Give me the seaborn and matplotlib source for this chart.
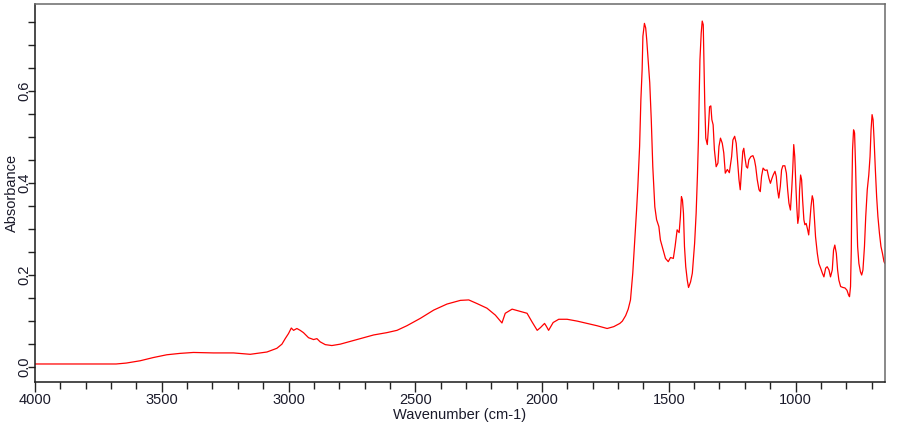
import matplotlib
matplotlib.use("Agg")
import matplotlib.pyplot as plt
from matplotlib.ticker import MultipleLocator, FormatStrFormatter
import pandas as pd
import seaborn as sns

# IR-Spektrum, Werte
wavenumber = [
    4000, 3680, 3640, 3585, 3533, 3480, 3428, 3375, 3296, 3217, 3151, 3085,
    3046, 3026, 3013, 3000, 2989, 2980, 2967, 2954, 2941, 2921, 2901, 2888,
    2875, 2855, 2829, 2796, 2756, 2717, 2664, 2612, 2572, 2533, 2480, 2427,
    2375, 2322, 2289, 2256, 2217, 2184, 2158, 2145, 2118, 2092, 2059, 2039,
    2019, 2006, 1990, 1983, 1974, 1956, 1934, 1901, 1861, 1822, 1783, 1743,
    1717, 1693, 1683, 1670, 1660, 1651, 1642, 1634, 1627, 1622, 1615, 1610,
    1605, 1602, 1596, 1591, 1587, 1580, 1575, 1569, 1563, 1555, 1548, 1539,
    1533, 1522, 1513, 1502, 1493, 1482, 1475, 1467, 1459, 1454, 1450, 1446,
    1442, 1438, 1433, 1427, 1422, 1414, 1407, 1398, 1392, 1387, 1383, 1380,
    1377, 1372, 1368, 1364, 1362, 1358, 1354, 1348, 1344, 1339, 1334, 1330,
    1325, 1320, 1313, 1306, 1302, 1296, 1289, 1283, 1277, 1269, 1261, 1252,
    1247, 1240, 1234, 1229, 1223, 1218, 1213, 1208, 1204, 1200, 1194, 1189,
    1184, 1176, 1168, 1162, 1157, 1151, 1144, 1139, 1134, 1128, 1120, 1112,
    1105, 1099, 1094, 1088, 1081, 1076, 1071, 1066, 1060, 1055, 1050, 1042,
    1036, 1031, 1026, 1020, 1015, 1011, 1007, 1003, 999, 995, 991, 987,
    984, 980, 976, 972, 967, 963, 958, 952, 948, 944, 939, 934,
    930, 926, 921, 914, 908, 901, 894, 888, 881, 875, 868, 862,
    855, 850, 845, 839, 834, 829, 822, 813, 805, 797, 791, 787,
    783, 780, 778, 775, 771, 767, 763, 759, 755, 750, 744, 739,
    734, 728, 723, 717, 711, 706, 702, 698, 694, 690, 685, 680,
    675, 669, 663, 657, 651, 647,
]
absorbance = [
    0.007, 0.007, 0.009, 0.014, 0.021, 0.027, 0.030, 0.032, 0.031, 0.031, 0.028, 0.033,
    0.041, 0.050, 0.062, 0.073, 0.085, 0.080, 0.084, 0.080, 0.075, 0.064, 0.060, 0.062,
    0.055, 0.049, 0.047, 0.050, 0.056, 0.062, 0.070, 0.075, 0.080, 0.090, 0.106, 0.124,
    0.137, 0.145, 0.146, 0.138, 0.128, 0.113, 0.096, 0.117, 0.126, 0.122, 0.117, 0.098,
    0.080, 0.086, 0.095, 0.089, 0.080, 0.097, 0.104, 0.104, 0.100, 0.095, 0.090, 0.084,
    0.088, 0.095, 0.100, 0.112, 0.126, 0.146, 0.204, 0.276, 0.341, 0.392, 0.479, 0.580,
    0.646, 0.718, 0.746, 0.736, 0.711, 0.657, 0.617, 0.537, 0.435, 0.348, 0.320, 0.305,
    0.276, 0.254, 0.236, 0.229, 0.238, 0.236, 0.262, 0.298, 0.292, 0.327, 0.370, 0.363,
    0.334, 0.262, 0.218, 0.189, 0.173, 0.185, 0.204, 0.269, 0.334, 0.414, 0.493, 0.588,
    0.667, 0.725, 0.751, 0.743, 0.682, 0.573, 0.497, 0.483, 0.515, 0.565, 0.567, 0.537,
    0.526, 0.472, 0.435, 0.443, 0.479, 0.497, 0.486, 0.465, 0.421, 0.429, 0.422, 0.457,
    0.493, 0.501, 0.486, 0.450, 0.407, 0.385, 0.428, 0.468, 0.475, 0.457, 0.435, 0.432,
    0.450, 0.457, 0.459, 0.450, 0.435, 0.407, 0.385, 0.381, 0.414, 0.432, 0.427, 0.428,
    0.410, 0.399, 0.408, 0.417, 0.425, 0.414, 0.385, 0.367, 0.392, 0.428, 0.437, 0.437,
    0.421, 0.385, 0.356, 0.341, 0.385, 0.428, 0.483, 0.457, 0.399, 0.348, 0.312, 0.327,
    0.385, 0.417, 0.407, 0.363, 0.320, 0.309, 0.312, 0.298, 0.287, 0.312, 0.348, 0.372,
    0.363, 0.327, 0.283, 0.247, 0.225, 0.215, 0.204, 0.196, 0.215, 0.218, 0.211, 0.196,
    0.211, 0.254, 0.265, 0.247, 0.211, 0.189, 0.175, 0.173, 0.172, 0.167, 0.157, 0.153,
    0.175, 0.254, 0.370, 0.472, 0.515, 0.508, 0.435, 0.341, 0.262, 0.225, 0.207, 0.200,
    0.211, 0.262, 0.327, 0.385, 0.417, 0.457, 0.515, 0.548, 0.537, 0.493, 0.428, 0.370,
    0.327, 0.291, 0.262, 0.247, 0.229, 0.225,
]

df = pd.DataFrame({"Wavenumber": wavenumber, "Absorbance": absorbance})

sns.set_style("ticks")
plt.rcParams["font.family"] = ["Liberation Sans", "DejaVu Sans"]
plt.rcParams["font.size"] = 10.5

fig = plt.figure(figsize=(9.1, 4.25), dpi=100)
ax = fig.add_axes([35 / 910, 1 - 381.5 / 425, 850 / 910, 377.5 / 425])

sns.lineplot(data=df, x="Wavenumber", y="Absorbance", color="#ff0000",
             linewidth=0.9, estimator=None, sort=False, ax=ax)

ax.set_xlim(4000, 647)
ax.set_ylim(-0.031, 0.788)

ax.xaxis.set_major_locator(MultipleLocator(500))
ax.xaxis.set_minor_locator(MultipleLocator(100))
ax.yaxis.set_major_locator(MultipleLocator(0.2))
ax.yaxis.set_minor_locator(MultipleLocator(0.05))
ax.yaxis.set_major_formatter(FormatStrFormatter("%.1f"))

ax.tick_params(axis="x", which="major", length=7.2, width=1, color="#222222",
               pad=1, labelcolor="#1a1a2a")
ax.tick_params(axis="x", which="minor", length=5, width=1, color="#222222")
ax.tick_params(axis="y", which="both", length=5, width=1, color="#222222",
               pad=-2.5, labelcolor="#1a1a2a")
for lbl in ax.get_yticklabels():
    lbl.set_rotation(90)
    lbl.set_va("center")

for side in ["left", "bottom"]:
    ax.spines[side].set_color("#1a1a1a")
    ax.spines[side].set_linewidth(1.1)
for side in ["top", "right"]:
    ax.spines[side].set_visible(True)
    ax.spines[side].set_color("#6a6a6a")
    ax.spines[side].set_linewidth(1.1)

ax.set_xlabel("Wavenumber (cm-1)", labelpad=1, color="#1a1a2a")
ax.set_ylabel("Absorbance", labelpad=-1, color="#1a1a2a")

fig.savefig("out.png", dpi=100, facecolor="white")
